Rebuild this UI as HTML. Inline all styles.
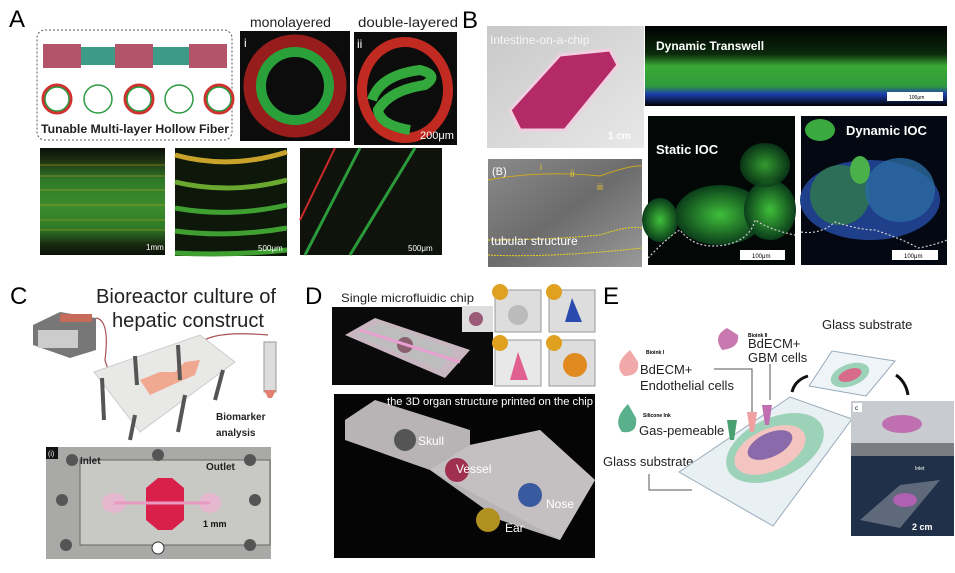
<!DOCTYPE html>
<html><head><meta charset="utf-8"><style>
html,body{margin:0;padding:0;background:#fff;}
svg{display:block;font-family:"Liberation Sans",sans-serif;}
</style></head><body>
<svg width="955" height="573" viewBox="0 0 955 573" xmlns="http://www.w3.org/2000/svg">
<defs>
<radialGradient id="gblob" cx="50%" cy="50%" r="50%"><stop offset="0" stop-color="#3fbf3a"/><stop offset="1" stop-color="#0b3d1a"/></radialGradient>
<linearGradient id="tw" x1="0" y1="0" x2="0" y2="1"><stop offset="0" stop-color="#000"/><stop offset="0.35" stop-color="#0b2a0c"/><stop offset="0.5" stop-color="#3aaa35"/><stop offset="0.75" stop-color="#2f9a3a"/><stop offset="0.85" stop-color="#1d3fae"/><stop offset="1" stop-color="#000"/></linearGradient>
<linearGradient id="gray" x1="0" y1="0" x2="1" y2="1"><stop offset="0" stop-color="#8a8a8a"/><stop offset="0.5" stop-color="#6c6c6c"/><stop offset="1" stop-color="#9a9a9a"/></linearGradient>
<linearGradient id="photoB" x1="0" y1="0" x2="1" y2="1"><stop offset="0" stop-color="#c8c8c8"/><stop offset="1" stop-color="#e8e8e8"/></linearGradient>
<linearGradient id="stripes" x1="0" y1="0" x2="0" y2="1"><stop offset="0" stop-color="#0a0f08"/><stop offset="0.1" stop-color="#1c2a10"/><stop offset="0.3" stop-color="#2f7a28"/><stop offset="0.55" stop-color="#3b8c2c"/><stop offset="0.75" stop-color="#2f7a28"/><stop offset="0.9" stop-color="#1a2a10"/><stop offset="1" stop-color="#0a0f08"/></linearGradient>
</defs>

<!-- ===== A ===== -->
<text x="9" y="27" font-size="24">A</text>
<rect x="37" y="30" width="195" height="110" rx="8" fill="#fff" stroke="#556" stroke-width="1" stroke-dasharray="2,2"/>
<rect x="43" y="44" width="38" height="24" fill="#b4546a"/>
<rect x="81" y="47" width="34" height="18" fill="#3c9a86"/>
<rect x="115" y="44" width="38" height="24" fill="#b4546a"/>
<rect x="153" y="47" width="36" height="18" fill="#3c9a86"/>
<rect x="189" y="44" width="38" height="24" fill="#b4546a"/>
<g fill="none" stroke-width="3">
<circle cx="57" cy="99" r="14" stroke="#d03030"/><circle cx="57" cy="99" r="12" stroke="#2c9a40" stroke-width="1.5"/>
<circle cx="98" cy="99" r="14" stroke="#2c9a40" stroke-width="1.5"/>
<circle cx="139" cy="99" r="14" stroke="#d03030"/><circle cx="139" cy="99" r="12" stroke="#2c9a40" stroke-width="1.5"/>
<circle cx="179" cy="99" r="14" stroke="#2c9a40" stroke-width="1.5"/>
<circle cx="219" cy="99" r="14" stroke="#d03030"/><circle cx="219" cy="99" r="12" stroke="#2c9a40" stroke-width="1.5"/>
</g>
<text x="41" y="133" font-size="12" font-weight="bold" fill="#222" textLength="188" lengthAdjust="spacingAndGlyphs">Tunable Multi-layer Hollow Fiber</text>

<text x="250" y="27" font-size="14" fill="#222">monolayered</text>
<text x="358" y="27" font-size="14" fill="#222" textLength="100" lengthAdjust="spacingAndGlyphs">double-layered</text>
<rect x="240" y="31" width="110" height="110" fill="#0c0c0c"/>
<circle cx="295" cy="86" r="45" fill="none" stroke="#b02020" stroke-width="13" opacity="0.85"/>
<circle cx="295" cy="86" r="34" fill="none" stroke="#2aa03a" stroke-width="10"/>
<text x="244" y="47" font-size="12" fill="#fff">i</text>
<rect x="354" y="32" width="103" height="113" fill="#0c0c0c"/>
<ellipse cx="405" cy="90" rx="43" ry="48" fill="none" stroke="#c02a20" stroke-width="10"/>
<path d="M372 100 Q380 75 420 70 Q440 75 425 85 Q390 90 378 110 Q380 125 410 130" fill="none" stroke="#33a83c" stroke-width="10"/>
<text x="357" y="48" font-size="12" fill="#fff">ii</text>
<text x="420" y="139" font-size="11" fill="#fff">200μm</text>

<rect x="40" y="148" width="125" height="107" fill="url(#stripes)"/>
<g stroke="#c8a020" stroke-width="0.8" opacity="0.7"><line x1="40" y1="165" x2="165" y2="165"/><line x1="40" y1="176" x2="165" y2="176"/><line x1="40" y1="190" x2="165" y2="190"/><line x1="40" y1="205" x2="165" y2="205"/><line x1="40" y1="220" x2="165" y2="220"/><line x1="40" y1="230" x2="165" y2="230"/></g>
<text x="146" y="250" font-size="8" fill="#fff">1mm</text>
<rect x="175" y="148" width="112" height="108" fill="#0d170a"/>
<g fill="none" stroke-width="5"><path d="M175 155 Q230 170 287 152" stroke="#c8a22a"/><path d="M175 182 Q230 195 287 180" stroke="#6aa830"/><path d="M175 208 Q230 218 287 205" stroke="#3f9f30"/><path d="M175 231 Q230 238 287 228" stroke="#3f9f30"/><path d="M175 253 Q230 256 287 250" stroke="#3f9f30"/></g>
<text x="258" y="251" font-size="8" fill="#fff">500μm</text>
<rect x="300" y="148" width="142" height="107" fill="#0f130c"/>
<line x1="300" y1="220" x2="335" y2="148" stroke="#d02a2a" stroke-width="2"/>
<line x1="305" y1="255" x2="360" y2="148" stroke="#2a9a3a" stroke-width="3"/>
<line x1="350" y1="255" x2="415" y2="148" stroke="#2a9a3a" stroke-width="3"/>
<text x="408" y="251" font-size="8" fill="#fff">500μm</text>

<!-- ===== B ===== -->
<text x="462" y="28" font-size="24">B</text>
<rect x="487" y="26" width="157" height="122" fill="url(#photoB)"/>
<polygon points="510,110 560,55 610,50 618,65 565,130 520,130" fill="#b42a66" stroke="#f0d0e0" stroke-width="3"/>
<text x="490" y="44" font-size="12" fill="#f5f5f5">Intestine-on-a-chip</text>
<text x="608" y="139" font-size="10" font-weight="bold" fill="#fff">1 cm</text>
<rect x="645" y="26" width="302" height="80" fill="url(#tw)"/>
<text x="656" y="50" font-size="12" font-weight="bold" fill="#fff">Dynamic  Transwell</text>
<rect x="887" y="92" width="56" height="9" fill="#fff"/><text x="909" y="99" font-size="5">100μm</text>
<rect x="488" y="159" width="154" height="108" fill="url(#gray)"/>
<path d="M488 180 Q540 170 600 176 Q630 165 642 166" fill="none" stroke="#caa820" stroke-width="1"/>
<path d="M488 240 Q550 240 600 235 Q630 225 642 228" fill="none" stroke="#e8d020" stroke-width="1" stroke-dasharray="2,1"/>
<path d="M488 255 Q550 258 642 248" fill="none" stroke="#e8d020" stroke-width="1" stroke-dasharray="2,1"/>
<text x="492" y="175" font-size="11" fill="#fff">(B)</text>
<text x="540" y="170" font-size="9" fill="#e8c830">i</text><text x="570" y="177" font-size="10" fill="#e8c830">ii</text><text x="597" y="190" font-size="9" fill="#e8c830">iii</text>
<text x="491" y="245" font-size="12" fill="#fff">tubular structure</text>
<rect x="648" y="116" width="147" height="149" fill="#030806"/>
<ellipse cx="720" cy="215" rx="45" ry="30" fill="url(#gblob)"/>
<ellipse cx="770" cy="210" rx="26" ry="30" fill="url(#gblob)"/>
<ellipse cx="765" cy="165" rx="25" ry="22" fill="url(#gblob)" opacity="0.8"/>
<ellipse cx="660" cy="220" rx="18" ry="22" fill="url(#gblob)"/>
<path d="M648 258 Q670 235 680 230 Q695 250 725 245 Q750 240 755 220 Q770 230 795 235" fill="none" stroke="#ccc" stroke-width="1.2" stroke-dasharray="2,2"/>
<text x="656" y="154" font-size="13" font-weight="bold" fill="#fff">Static IOC</text>
<rect x="740" y="250" width="45" height="10" fill="#fff"/><text x="752" y="258" font-size="6">100μm</text>
<rect x="801" y="116" width="146" height="149" fill="#040812"/>
<ellipse cx="870" cy="200" rx="70" ry="40" fill="#1f3f8a"/>
<ellipse cx="840" cy="195" rx="30" ry="30" fill="#2f7a4a" opacity="0.8"/>
<ellipse cx="900" cy="190" rx="35" ry="32" fill="#2a6aa0" opacity="0.8"/>
<ellipse cx="820" cy="130" rx="15" ry="11" fill="#3aaa40"/>
<ellipse cx="860" cy="170" rx="10" ry="14" fill="#4ab04a"/>
<path d="M801 232 Q820 235 835 222 Q860 230 875 230 Q905 240 918 248 Q935 245 947 240" fill="none" stroke="#ccc" stroke-width="1.2" stroke-dasharray="2,2"/>
<text x="846" y="135" font-size="13" font-weight="bold" fill="#fff">Dynamic IOC</text>
<rect x="892" y="250" width="46" height="10" fill="#fff"/><text x="904" y="258" font-size="6">100μm</text>

<!-- ===== C ===== -->
<text x="10" y="304" font-size="24">C</text>
<text x="96" y="303" font-size="20" fill="#222" textLength="180" lengthAdjust="spacingAndGlyphs">Bioreactor culture of</text>
<text x="112" y="327" font-size="20" fill="#222" textLength="152" lengthAdjust="spacingAndGlyphs">hepatic construct</text>
<polygon points="33,325 60,312 96,318 96,350 70,358 33,345" fill="#777"/>
<rect x="38" y="330" width="40" height="18" fill="#ccc"/>
<rect x="60" y="314" width="32" height="8" fill="#c86a5a"/>
<path d="M96 318 Q110 320 105 360 Q110 380 130 390" fill="none" stroke="#a85050" stroke-width="1.2"/>
<path d="M198 345 Q210 330 268 335" fill="none" stroke="#a85050" stroke-width="1.2"/>
<polygon points="94,372 200,335 235,362 140,432" fill="#e8e8e6" stroke="#ccc"/>
<polygon points="140,380 160,372 175,372 185,362 200,360 195,375 172,385 150,395" fill="#f0a890"/>
<g stroke="#555" stroke-width="4"><line x1="102" y1="378" x2="104" y2="420"/><line x1="135" y1="356" x2="137" y2="385"/><line x1="178" y1="345" x2="180" y2="380"/><line x1="223" y1="370" x2="215" y2="400"/><line x1="185" y1="395" x2="178" y2="432"/><line x1="135" y1="415" x2="130" y2="440"/></g>
<rect x="264" y="342" width="12" height="50" fill="#ddd" stroke="#999"/>
<path d="M264 390 L276 390 L272 398 L268 398Z" fill="#e08070"/>
<text x="216" y="420" font-size="10" font-weight="bold" fill="#222">Biomarker</text>
<text x="216" y="436" font-size="10" font-weight="bold" fill="#222">analysis</text>
<rect x="46" y="447" width="225" height="112" fill="#a9aaa8"/>
<rect x="46" y="447" width="12" height="12" fill="#111"/><text x="48" y="456" font-size="7" fill="#fff">(i)</text>
<rect x="80" y="460" width="190" height="85" fill="#c8c8c4" stroke="#666"/>
<ellipse cx="114" cy="503" rx="12" ry="10" fill="#e6b8d0"/><ellipse cx="210" cy="503" rx="11" ry="10" fill="#e6b8d0"/>
<polygon points="146,488 158,478 172,478 184,488 184,520 172,530 158,530 146,520" fill="#d8204a"/>
<line x1="114" y1="503" x2="210" y2="503" stroke="#e89ac0" stroke-width="3"/>
<g fill="#555"><circle cx="72" cy="460" r="6"/><circle cx="158" cy="455" r="6"/><circle cx="250" cy="460" r="6"/><circle cx="62" cy="500" r="6"/><circle cx="255" cy="500" r="6"/><circle cx="66" cy="545" r="6"/><circle cx="158" cy="548" r="6" fill="#fff" stroke="#333"/><circle cx="250" cy="545" r="6"/></g>
<text x="80" y="464" font-size="10" font-weight="bold" fill="#222">Inlet</text>
<text x="206" y="470" font-size="10" font-weight="bold" fill="#222">Outlet</text>
<text x="203" y="527" font-size="9" font-weight="bold" fill="#111">1 mm</text>

<!-- ===== D ===== -->
<text x="305" y="304" font-size="24">D</text>
<text x="341" y="302" font-size="12" fill="#222" textLength="133" lengthAdjust="spacingAndGlyphs">Single microfluidic chip</text>
<rect x="332" y="307" width="161" height="78" fill="#0a0a0a"/>
<polygon points="345,335 375,318 470,350 445,378" fill="#c8b6c0"/>
<polygon points="355,335 380,322 455,350 440,370" fill="#bdbdbd"/>
<circle cx="405" cy="345" r="8" fill="#8a6070"/>
<line x1="360" y1="330" x2="460" y2="362" stroke="#e8a0d0" stroke-width="3"/>
<rect x="462" y="306" width="31" height="26" fill="#ddd"/><circle cx="476" cy="319" r="7" fill="#9a5a78"/>
<g><rect x="495" y="290" width="46" height="42" fill="#ddd" stroke="#999"/><circle cx="518" cy="315" r="10" fill="#bbb"/><circle cx="500" cy="292" r="8" fill="#e0a020"/>
<rect x="549" y="290" width="46" height="42" fill="#ddd" stroke="#999"/><path d="M565 322 L572 298 L582 322Z" fill="#2a4ab0"/><circle cx="554" cy="292" r="8" fill="#e0a020"/>
<rect x="495" y="340" width="46" height="46" fill="#e8e8e8" stroke="#999"/><path d="M510 380 L518 352 L528 380Z" fill="#e06090"/><circle cx="500" cy="343" r="8" fill="#e0a020"/>
<rect x="549" y="340" width="46" height="46" fill="#ddd" stroke="#999"/><ellipse cx="575" cy="365" rx="12" ry="12" fill="#e08a20"/><circle cx="554" cy="343" r="8" fill="#e0a020"/></g>
<rect x="334" y="394" width="261" height="164" fill="#050505"/>
<polygon points="345,420 375,400 470,430 470,445 540,430 595,480 560,540 500,520 430,470 345,440" fill="#b8b4b6"/>
<polygon points="470,445 540,430 595,480 560,540 430,470" fill="#c4c0c2"/>
<circle cx="405" cy="440" r="11" fill="#555"/><circle cx="457" cy="470" r="12" fill="#a03050"/><circle cx="530" cy="495" r="12" fill="#3a5aa0"/><circle cx="488" cy="520" r="12" fill="#b09020"/>
<text x="387" y="405" font-size="11" fill="#fff" textLength="206" lengthAdjust="spacingAndGlyphs">the 3D organ structure printed on the chip</text>
<text x="418" y="445" font-size="12" fill="#fff">Skull</text>
<text x="456" y="473" font-size="12" fill="#fff">Vessel</text>
<text x="546" y="508" font-size="12" fill="#fff">Nose</text>
<text x="505" y="532" font-size="12" fill="#fff">Ear</text>

<!-- ===== E ===== -->
<text x="603" y="304" font-size="24">E</text>
<text x="822" y="329" font-size="13" fill="#222">Glass substrate</text>
<path d="M727 328 Q712 336 722 350 Q740 348 738 335Z" fill="#c87ab0"/>
<text x="748" y="337" font-size="5" font-weight="bold">Bioink II</text>
<text x="748" y="348" font-size="13" fill="#222">BdECM+</text>
<text x="748" y="362" font-size="13" fill="#222">GBM cells</text>
<path d="M630 350 Q612 365 624 376 Q640 376 638 362Z" fill="#f0a8a8"/>
<text x="646" y="354" font-size="5" font-weight="bold">Bioink I</text>
<text x="640" y="374" font-size="13" fill="#222">BdECM+</text>
<text x="640" y="390" font-size="13" fill="#222">Endothelial cells</text>
<path d="M628 404 Q612 420 622 432 Q638 434 636 418Z" fill="#5ab08a"/>
<text x="643" y="417" font-size="5" font-weight="bold">Silicone Ink</text>
<text x="639" y="435" font-size="13" fill="#222">Gas-pemeable</text>
<text x="603" y="466" font-size="13" fill="#222">Glass substrate</text>
<polyline points="649,474 649,490 692,490" fill="none" stroke="#555"/>
<polyline points="714,369 752,369 752,412" fill="none" stroke="#555"/>
<polyline points="770,364 770,400" fill="none" stroke="#555"/>
<polygon points="679,472 790,397 852,419 773,526" fill="#e8f0f4" stroke="#9ab" stroke-width="1"/>
<ellipse cx="775" cy="448" rx="52" ry="30" fill="#9cd2b8" transform="rotate(-25 775 448)"/>
<ellipse cx="770" cy="450" rx="38" ry="21" fill="#f4c4c0" transform="rotate(-25 770 450)"/>
<ellipse cx="770" cy="445" rx="24" ry="12" fill="#8a6aaa" transform="rotate(-25 770 445)"/>
<polygon points="727,420 737,420 734,440 730,440" fill="#48a070"/>
<polygon points="747,412 757,412 754,432 750,432" fill="#f0a0a0"/>
<polygon points="762,405 772,405 769,425 765,425" fill="#c070b0"/>
<polygon points="809,386 832,351 895,361 866,396" fill="#eef4f8" stroke="#9ab"/>
<ellipse cx="850" cy="375" rx="20" ry="11" fill="#9cd2b8" transform="rotate(-20 850 375)"/>
<ellipse cx="850" cy="375" rx="12" ry="6" fill="#d86a8a" transform="rotate(-20 850 375)"/>
<path d="M792 392 Q795 380 808 376" fill="none" stroke="#111" stroke-width="3"/>
<path d="M896 375 Q906 382 908 395" fill="none" stroke="#111" stroke-width="3"/>
<rect x="851" y="401" width="103" height="55" fill="#7a7e84"/>
<rect x="851" y="401" width="103" height="42" fill="#c8ccd0"/>
<ellipse cx="902" cy="424" rx="20" ry="9" fill="#c070b0"/>
<rect x="853" y="403" width="9" height="9" fill="#fff"/><text x="855" y="410" font-size="6">c</text>
<rect x="851" y="456" width="103" height="80" fill="#203048"/>
<polygon points="860,520 900,485 940,480 900,528" fill="#8890a0" opacity="0.6"/>
<ellipse cx="905" cy="500" rx="12" ry="7" fill="#b060b0"/>
<text x="915" y="470" font-size="5" fill="#fff">Inlet</text>
<text x="912" y="530" font-size="9" font-weight="bold" fill="#fff">2 cm</text>
</svg>
</body></html>
